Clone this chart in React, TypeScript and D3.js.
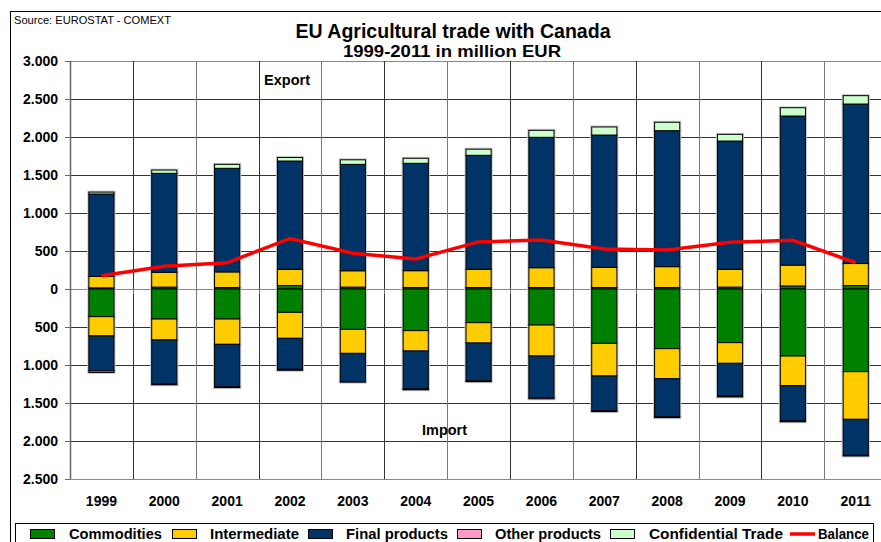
import React from "react";
import * as d3 from "d3";

const years = ["1999","2000","2001","2002","2003","2004","2005","2006","2007","2008","2009","2010","2011"];

const expCommodities = [15, 25, 20, 45, 25, 20, 20, 20, 20, 20, 25, 40, 45];
const expIntermediate = [150, 195, 205, 214, 215, 221, 240, 260, 265, 274, 235, 275, 290];
const expFinal = [1085, 1302, 1363, 1425, 1400, 1413, 1499, 1716, 1741, 1789, 1687, 1961, 2099];
const expOther = [0, 0, 0, 0, 0, 0, 0, 0, 0, 0, 0, 0, 0];
const expConfidential = [25, 43, 52, 46, 60, 66, 81, 92, 106, 111, 88, 109, 110];

const impCommodities = [364, 395, 395, 307, 531, 548, 443, 474, 715, 785, 706, 882, 1088];
const impIntermediate = [254, 276, 333, 342, 316, 268, 268, 408, 430, 395, 272, 390, 627];
const impFinal = [460, 579, 557, 408, 373, 500, 496, 548, 456, 500, 430, 465, 474];
const impOther = [20, 10, 12, 13, 5, 10, 12, 15, 12, 12, 12, 10, 8];
const impConfidential = [0, 0, 0, 0, 0, 0, 0, 0, 0, 0, 0, 0, 0];

const balance = [175, 300, 345, 665, 470, 395, 620, 645, 525, 513, 614, 640, 346];

const tickValues = [3000, 2500, 2000, 1500, 1000, 500, 0, -500, -1000, -1500, -2000, -2500];
const tickLabels = ["3.000", "2.500", "2.000", "1.500", "1.000", "500", "0", "500", "1.000", "1.500", "2.000", "2.500"];

const seriesNames = ["Commodities", "Intermediate", "Final products", "Other products", "Confidential Trade"];
const seriesColors = ["#008000", "#FFCC00", "#003366", "#FF99CC", "#CCFFCC"];

const FONT = "'Liberation Sans', Arial, Helvetica, sans-serif";

export default function App() {
  const W = 881, H = 542;
  const x = d3.scaleBand<string>().domain(years).range([70, 70 + 13 * 62.86]).paddingInner(0).paddingOuter(0);
  const y = d3.scaleLinear().domain([-2500, 3000]).range([479, 61]);
  const bw = x.bandwidth() * 0.4;

  const expSeries = [expCommodities, expIntermediate, expFinal, expOther, expConfidential];
  const impSeries = [impCommodities, impIntermediate, impFinal, impOther, impConfidential];

  const segs: { x: number; y0: number; y1: number; color: string; key: string }[] = [];
  years.forEach((yr, i) => {
    const cx = (x(yr) as number) + x.bandwidth() / 2;
    let acc = 0;
    expSeries.forEach((s, k) => {
      const v = s[i];
      if (v > 0) {
        segs.push({ x: cx - bw / 2, y0: y(acc + v), y1: y(acc), color: seriesColors[k], key: `e${i}-${k}` });
      }
      acc += v;
    });
    acc = 0;
    impSeries.forEach((s, k) => {
      const v = s[i];
      if (v > 0) {
        segs.push({ x: cx - bw / 2, y0: y(acc), y1: y(acc - v), color: seriesColors[k], key: `i${i}-${k}` });
      }
      acc -= v;
    });
  });

  const line = d3.line<number>()
    .x((_, i) => (x(years[i]) as number) + x.bandwidth() / 2)
    .y((d) => y(d));

  const plotRight = 70 + 13 * 62.86;

  const legendItems = [
    { sx: 30, tx: 69, tl: 93 },
    { sx: 172, tx: 210, tl: 89 },
    { sx: 308, tx: 346, tl: 102 },
    { sx: 457, tx: 495, tl: 106 },
    { sx: 610, tx: 649, tl: 134 },
  ];

  return (
    <div style={{ position: "absolute", left: 0, top: 0, width: W, height: H, overflow: "hidden" }}>
      <svg width={W} height={H} style={{ display: "block", background: "#fff" }} fontFamily={FONT}>
        <rect x={0} y={0} width={W} height={H} fill="#fff" />
        {/* outer border */}
        <rect x={10.5} y={11.5} width={1000} height={700} fill="none" stroke="#000" strokeWidth={1} />
        <text x={14} y={24} fontSize={11} fill="#000" textLength={157} lengthAdjust="spacingAndGlyphs">Source: EUROSTAT - COMEXT</text>
        <text x={453} y={38} fontSize={19.5} fontWeight="bold" textAnchor="middle" textLength={315} lengthAdjust="spacingAndGlyphs">EU Agricultural trade with Canada</text>
        <text x={452} y={57} fontSize={16.5} fontWeight="bold" textAnchor="middle" textLength={218} lengthAdjust="spacingAndGlyphs">1999-2011 in million EUR</text>

        {/* horizontal gridlines */}
        {tickValues.map((v) => (
          <line key={`h${v}`} x1={70} x2={plotRight} y1={Math.round(y(v)) + 0.5} y2={Math.round(y(v)) + 0.5}
            stroke={v === 0 || v === 3000 || v === -2500 ? "#888" : "#333"} strokeWidth={1} />
        ))}
        {/* vertical gridlines */}
        {years.map((yr, i) => (
          <line key={`v${yr}`} x1={Math.round(x(yr) as number) + 0.5} x2={Math.round(x(yr) as number) + 0.5} y1={61} y2={479}
            stroke={i % 2 === 0 ? "#777" : "#333"} strokeWidth={1} />
        ))}
        {/* zero-line ticks */}
        {years.map((yr) => (
          <line key={`zt${yr}`} x1={Math.round(x(yr) as number) + 0.5} x2={Math.round(x(yr) as number) + 0.5}
            y1={y(0)} y2={y(0) + 5} stroke="#777" strokeWidth={1} />
        ))}
        {/* y axis */}
        <line x1={70.5} x2={70.5} y1={61} y2={479} stroke="#666" strokeWidth={1.5} />
        {tickValues.map((v, i) => (
          <g key={`t${v}`}>
            <line x1={65} x2={70} y1={Math.round(y(v)) + 0.5} y2={Math.round(y(v)) + 0.5} stroke="#666" />
            <text x={58} y={y(v) + 5} fontSize={14} fontWeight="bold" textAnchor="end">{tickLabels[i]}</text>
          </g>
        ))}
        {/* x labels */}
        {years.map((yr) => (
          <text key={`xl${yr}`} x={(x(yr) as number) + x.bandwidth() / 2} y={506} fontSize={14} fontWeight="bold" textAnchor="middle">{yr}</text>
        ))}

        {/* bar halos */}
        {segs.map((s) => (
          <rect key={`h${s.key}`} x={s.x} y={s.y0} width={bw} height={s.y1 - s.y0} fill="none" stroke="#c8c8c8" strokeWidth={3} />
        ))}
        {segs.map((s) => (
          <rect key={s.key} x={s.x} y={s.y0} width={bw} height={s.y1 - s.y0} fill={s.color} stroke="#000" strokeWidth={1} />
        ))}

        <text x={264} y={85} fontSize={14.5} fontWeight="bold" textLength={46} lengthAdjust="spacingAndGlyphs">Export</text>
        <text x={422} y={435} fontSize={14.5} fontWeight="bold" textLength={45} lengthAdjust="spacingAndGlyphs">Import</text>

        <path d={line(balance) || ""} fill="none" stroke="#FF0000" strokeWidth={3.5} strokeLinejoin="miter" />

        {/* legend */}
        <rect x={15.5} y={523.5} width={858} height={40} fill="#fff" stroke="#000" strokeWidth={1} />
        {legendItems.map((it, k) => (
          <g key={`lg${k}`}>
            <rect x={it.sx + 0.5} y={529.5} width={24} height={9} fill={seriesColors[k]} stroke="#000" strokeWidth={1} />
            <text x={it.tx} y={539} fontSize={14} fontWeight="bold" textLength={it.tl} lengthAdjust="spacingAndGlyphs">{seriesNames[k]}</text>
          </g>
        ))}
        <line x1={790} x2={815} y1={534} y2={534} stroke="#FF0000" strokeWidth={3.5} />
        <text x={818} y={539} fontSize={14} fontWeight="bold" textLength={51} lengthAdjust="spacingAndGlyphs">Balance</text>
      </svg>
    </div>
  );
}
